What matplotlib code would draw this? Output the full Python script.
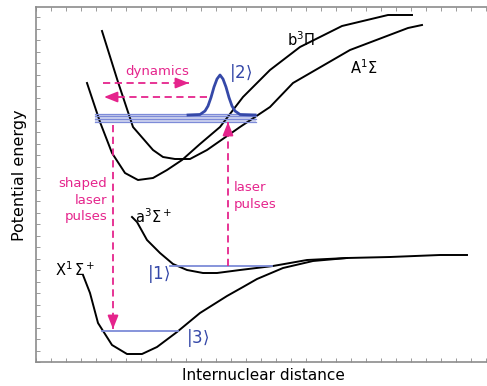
import numpy as np
import matplotlib
matplotlib.use('Agg')
import matplotlib.pyplot as plt
from matplotlib.ticker import MultipleLocator

# curves (x = distance, y = height in px from the top)
X0, Y0 = 36, 362

b3pi_x = [87, 100, 112, 125, 138, 153, 167, 182, 200, 220, 243, 270, 300, 342, 388, 412]
b3pi_y = [83, 122, 153, 173, 180, 178, 170, 160, 144, 127, 97, 70, 47, 26, 15, 15]

A1sig_x = [102, 118, 133, 153, 163, 175, 190, 207, 240, 270, 293, 350, 408, 422]
A1sig_y = [31, 82, 127, 150, 157, 159, 159, 150, 127, 107, 83, 50, 28, 25]

a3sig_x = [132, 137, 147, 160, 173, 187, 203, 217, 240, 273, 307, 347, 390, 440, 467]
a3sig_y = [217, 222, 240, 253, 264, 270, 273, 273, 270, 266, 260, 258, 257, 255, 255]

X1sig_x = [83, 90, 98, 112, 127, 142, 157, 177, 200, 227, 243, 257, 283, 313, 347]
X1sig_y = [275, 293, 323, 345, 354, 354, 347, 332, 313, 296, 287, 279, 268, 261, 258]

# wavepacket on state |2>
wp_x = [188, 200, 205, 208, 211, 214, 217, 220, 223, 226, 229, 232, 235, 240, 255]
wp_y = [115, 114.5, 111, 106, 97.5, 87, 79, 75, 79, 87, 97.5, 106, 111, 114.5, 115]

# vibrational levels: (x start, x end, y)
band_x = (95, 256)
band_y = [113.5, 116.2, 119, 121.8]
lev1 = (170, 272, 266)
lev3 = (102, 178, 331)


def cx(v):
    return np.asarray(v, dtype=float) - X0


def cy(v):
    return Y0 - np.asarray(v, dtype=float)


pink = '#e5248c'
blue = '#3548a8'
lblue = '#7d8bd8'

fig = plt.figure(figsize=(4.87, 3.86), dpi=100)
ax = fig.add_axes([X0 / 487, (386 - Y0) / 386, 454 / 487, 355 / 386])
ax.set_xlim(0, 454)
ax.set_ylim(0, 355)

for xs, ys in [(b3pi_x, b3pi_y), (A1sig_x, A1sig_y), (a3sig_x, a3sig_y), (X1sig_x, X1sig_y)]:
    ax.plot(cx(xs), cy(ys), color='black', lw=1.4, solid_joinstyle='round')

# band of levels in the excited states
ax.fill_between(cx(band_x), cy(band_y[0]), cy(band_y[-1]), color='#cfd4ee', lw=0)
for y in band_y:
    ax.plot(cx(band_x), cy([y, y]), color=lblue, lw=0.9)

ax.plot(cx(lev1[:2]), cy([lev1[2]] * 2), color=lblue, lw=1.3)
ax.plot(cx(lev3[:2]), cy([lev3[2]] * 2), color=lblue, lw=1.3)

ax.plot(cx(wp_x), cy(wp_y), color=blue, lw=2)

# dashed arrows
dash = (0, (4, 2.5))


def arrow(x1, y1, x2, y2):
    ax.plot(cx([x1, x2]), cy([y1, y2]), color=pink, lw=1.3, ls=dash)
    dx, dy = x2 - x1, y2 - y1
    n = np.hypot(dx, dy)
    ax.annotate('', xy=(cx(x2), cy(y2)), xytext=(cx(x2 - 10 * dx / n), cy(y2 - 10 * dy / n)),
                arrowprops=dict(arrowstyle='-|>,head_length=0.8,head_width=0.32',
                                color=pink, lw=1.3, shrinkA=0, shrinkB=0))


arrow(103, 83, 189, 83)
arrow(207, 97, 104, 97)
arrow(113, 125, 113, 329)
arrow(228, 266, 228, 122)

tkw = dict(fontsize=9.5, color=pink)
ax.text(cx(157), cy(72), 'dynamics', ha='center', va='center', **tkw)
ax.text(cx(107), cy(200), 'shaped\nlaser\npulses', ha='right', va='center',
        multialignment='right', linespacing=1.35, **tkw)
ax.text(cx(234), cy(196), 'laser\npulses', ha='left', va='center',
        linespacing=1.35, **tkw)

ax.text(cx(241), cy(73), r'$|2\rangle$', ha='center', va='center', fontsize=12, color=blue)
ax.text(cx(159), cy(274), r'$|1\rangle$', ha='center', va='center', fontsize=12, color=blue)
ax.text(cx(198), cy(338), r'$|3\rangle$', ha='center', va='center', fontsize=12, color=blue)

lkw = dict(fontsize=10.5, color='black', ha='center', va='center')
ax.text(cx(301), cy(40), r'b$^3\Pi$', **lkw)
ax.text(cx(364), cy(68), r'A$^1\Sigma$', **lkw)
ax.text(cx(154), cy(217), r'a$^3\Sigma^+$', **lkw)
ax.text(cx(75), cy(270), r'X$^1\,\Sigma^+$', **lkw)

fig.text(20 / 487, 1 - 175 / 386, 'Potential energy', rotation=90,
         ha='center', va='center', fontsize=11.5)
fig.text(263 / 487, 1 - 376 / 386, 'Internuclear distance',
         ha='center', va='center', fontsize=11)

# frame
for s in ['left', 'top', 'bottom']:
    ax.spines[s].set_color('#8c8c8c')
    ax.spines[s].set_linewidth(1.2)
ax.spines['right'].set_visible(False)
ax.xaxis.set_major_locator(MultipleLocator(15))
ax.yaxis.set_major_locator(MultipleLocator(11.5))
ax.tick_params(direction='in', length=3, width=0.7, color='#9a9a9a',
               top=True, right=False, labelleft=False, labelbottom=False)

fig.savefig('out.png', dpi=100)
